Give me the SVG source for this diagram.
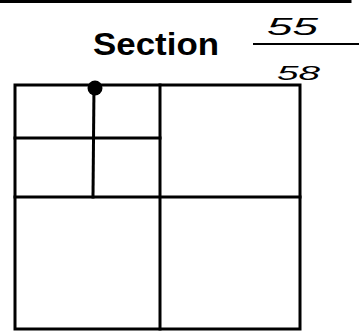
<svg xmlns="http://www.w3.org/2000/svg" width="359" height="332" viewBox="0 0 359 332">
<style>
.ln{stroke:#000;stroke-width:3;fill:none;stroke-linecap:square}
.hw{font-family:"Liberation Sans",Arial,sans-serif;font-style:italic;fill:#000}
</style>
<rect width="359" height="332" fill="#fff"/>
<line class="ln" x1="0" y1="1.5" x2="350" y2="1.5"/>
<g id="title">
<text x="93" y="55" font-family="Liberation Sans,Arial,sans-serif" font-weight="bold" font-size="32" textLength="126" lengthAdjust="spacingAndGlyphs">Section</text>
</g>
<g id="fraction">
<text class="hw" x="267" y="35" font-size="24" textLength="51" lengthAdjust="spacingAndGlyphs">55</text>
<line x1="253" y1="44" x2="359" y2="44" stroke="#000" stroke-width="2"/>
<text class="hw" x="277" y="80" font-size="21" textLength="43" lengthAdjust="spacingAndGlyphs">58</text>
</g>
<g id="grid">
<rect class="ln" x="15" y="85" width="285" height="244"/>
<line class="ln" x1="160" y1="85" x2="160" y2="329"/>
<line class="ln" x1="15" y1="197" x2="300" y2="197"/>
<line class="ln" x1="94" y1="85" x2="93" y2="197"/>
<line class="ln" x1="15" y1="138" x2="160" y2="138"/>
</g>
<g id="dot">
<circle cx="95" cy="88" r="7.5" fill="#000"/>
</g>
</svg>
